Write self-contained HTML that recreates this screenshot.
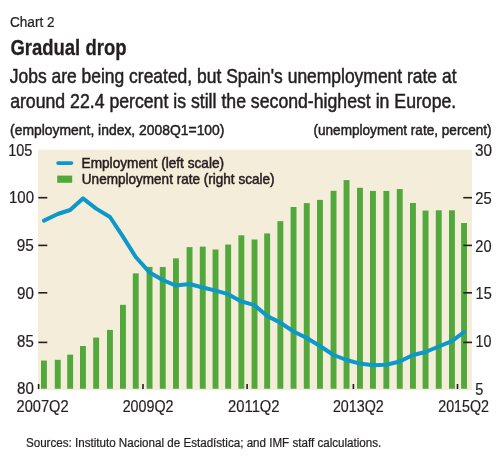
<!DOCTYPE html>
<html><head><meta charset="utf-8"><style>
html,body{margin:0;padding:0;background:#fff;width:500px;height:462px;overflow:hidden}
svg{display:block;will-change:transform}
text{font-family:"Liberation Sans",sans-serif;fill:#231F20;stroke:#231F20;stroke-width:0.5px}
</style></head><body>
<svg width="500" height="462" viewBox="0 0 500 462">
<rect x="38" y="149.7" width="434" height="240.6" fill="#F4EDDA"/>
<g fill="#52A83A"><rect x="41.00" y="360.56" width="5.9" height="28.19"/><rect x="54.80" y="359.79" width="5.9" height="28.96"/><rect x="67.20" y="354.64" width="5.9" height="34.11"/><rect x="80.00" y="346.00" width="5.9" height="42.75"/><rect x="93.20" y="337.57" width="5.9" height="51.18"/><rect x="107.00" y="329.90" width="5.9" height="58.85"/><rect x="120.00" y="304.84" width="5.9" height="83.91"/><rect x="132.80" y="273.40" width="5.9" height="115.35"/><rect x="146.60" y="266.87" width="5.9" height="121.88"/><rect x="159.80" y="266.97" width="5.9" height="121.78"/><rect x="173.00" y="258.38" width="5.9" height="130.37"/><rect x="186.60" y="247.13" width="5.9" height="141.62"/><rect x="199.80" y="246.65" width="5.9" height="142.10"/><rect x="212.60" y="249.51" width="5.9" height="139.24"/><rect x="225.20" y="244.55" width="5.9" height="144.20"/><rect x="238.40" y="235.30" width="5.9" height="153.45"/><rect x="251.60" y="239.49" width="5.9" height="149.26"/><rect x="264.20" y="233.39" width="5.9" height="155.36"/><rect x="277.40" y="221.18" width="5.9" height="167.57"/><rect x="290.60" y="207.00" width="5.9" height="181.75"/><rect x="303.80" y="203.10" width="5.9" height="185.65"/><rect x="317.00" y="199.90" width="5.9" height="188.85"/><rect x="330.60" y="190.80" width="5.9" height="197.95"/><rect x="343.60" y="180.10" width="5.9" height="208.65"/><rect x="357.00" y="187.79" width="5.9" height="200.96"/><rect x="370.00" y="190.94" width="5.9" height="197.81"/><rect x="383.40" y="190.94" width="5.9" height="197.81"/><rect x="396.80" y="189.03" width="5.9" height="199.72"/><rect x="410.00" y="202.96" width="5.9" height="185.79"/><rect x="422.60" y="210.59" width="5.9" height="178.16"/><rect x="435.80" y="210.30" width="5.9" height="178.45"/><rect x="449.00" y="210.30" width="5.9" height="178.45"/><rect x="461.10" y="222.99" width="5.9" height="165.76"/></g>
<g stroke="#231F20" stroke-width="1.6"><line x1="38.3" y1="197.7" x2="47.3" y2="197.7"/><line x1="463.3" y1="197.7" x2="472" y2="197.7"/><line x1="38.3" y1="245.4" x2="47.3" y2="245.4"/><line x1="463.3" y1="245.4" x2="472" y2="245.4"/><line x1="38.3" y1="292.8" x2="47.3" y2="292.8"/><line x1="463.3" y1="292.8" x2="472" y2="292.8"/><line x1="38.3" y1="342.4" x2="47.3" y2="342.4"/><line x1="463.3" y1="342.4" x2="472" y2="342.4"/><line x1="38.6" y1="384" x2="38.6" y2="389"/><line x1="143" y1="384" x2="143" y2="389"/><line x1="247.1" y1="384" x2="247.1" y2="389"/><line x1="353.4" y1="384" x2="353.4" y2="389"/><line x1="457.5" y1="384" x2="457.5" y2="389"/></g>
<polyline points="43.95,220.6 57.75,214 70.15,210 82.95,198.4 96.15,208.6 109.95,217 122.95,236.6 135.75,257 149.55,272.4 162.75,280 175.95,285.6 189.55,284 202.75,287.5 215.55,290.6 228.15,294.2 241.35,301.4 254.55,305.2 267.15,316 280.35,322.6 293.55,331.5 306.75,338 319.95,346 333.55,355 346.55,360 359.95,363.6 372.95,365.2 386.35,364.8 399.75,361.5 412.95,355 425.55,352 438.75,346.5 451.95,341.2 464.05,332" fill="none" stroke="#0C98C9" stroke-width="4" stroke-linejoin="round" stroke-linecap="round"/>
<line x1="58" y1="163.1" x2="71.5" y2="163.1" stroke="#0C98C9" stroke-width="3.6" stroke-linecap="round"/>
<rect x="57.2" y="175.6" width="15" height="7.2" fill="#52A83A"/>
<text transform="translate(9.94,26.6) scale(0.8857,1)" font-size="15.4" font-weight="400" style="stroke-width:0.25px">Chart 2</text>
<text transform="translate(10.38,54.8) scale(0.8186,1)" font-size="22.6" font-weight="700" style="stroke-width:0.3px">Gradual drop</text>
<text transform="translate(9.78,82.8) scale(0.8820,1)" font-size="19.8" font-weight="400">Jobs are being created, but Spain's unemployment rate at</text>
<text transform="translate(10.13,108.3) scale(0.8930,1)" font-size="19.8" font-weight="400">around 22.4 percent is still the second-highest in Europe.</text>
<text transform="translate(10.07,134.9) scale(0.9272,1)" font-size="15.0" font-weight="400">(employment, index, 2008Q1=100)</text>
<text transform="translate(313.49,134.9) scale(0.9063,1)" font-size="15.0" font-weight="400">(unemployment rate, percent)</text>
<text transform="translate(8.27,156) scale(0.9051,1)" font-size="16" font-weight="400" style="stroke-width:0.2px">105</text>
<text transform="translate(9.03,203) scale(0.9374,1)" font-size="16" font-weight="400" style="stroke-width:0.2px">100</text>
<text transform="translate(16.68,251.3) scale(0.9600,1)" font-size="16" font-weight="400" style="stroke-width:0.2px">95</text>
<text transform="translate(17.09,299.3) scale(0.9455,1)" font-size="16" font-weight="400" style="stroke-width:0.2px">90</text>
<text transform="translate(17.10,347) scale(0.9354,1)" font-size="16" font-weight="400" style="stroke-width:0.2px">85</text>
<text transform="translate(17.09,394) scale(0.9455,1)" font-size="16" font-weight="400" style="stroke-width:0.2px">80</text>
<text transform="translate(475.08,155.6) scale(0.9576,1)" font-size="16" font-weight="400" style="stroke-width:0.2px">30</text>
<text transform="translate(475.31,204) scale(0.9231,1)" font-size="16" font-weight="400" style="stroke-width:0.2px">25</text>
<text transform="translate(475.32,251.6) scale(0.9091,1)" font-size="16" font-weight="400" style="stroke-width:0.2px">20</text>
<text transform="translate(475.57,299.3) scale(0.9079,1)" font-size="16" font-weight="400" style="stroke-width:0.2px">15</text>
<text transform="translate(475.58,347) scale(0.8938,1)" font-size="16" font-weight="400" style="stroke-width:0.2px">10</text>
<text transform="translate(475.32,394.5) scale(0.9067,1)" font-size="16" font-weight="400" style="stroke-width:0.2px">5</text>
<text transform="translate(16.61,411.6) scale(0.9135,1)" font-size="16" font-weight="400" style="stroke-width:0.2px">2007Q2</text>
<text transform="translate(122.63,411.6) scale(0.8937,1)" font-size="16" font-weight="400" style="stroke-width:0.2px">2009Q2</text>
<text transform="translate(228.11,411.6) scale(0.9235,1)" font-size="16" font-weight="400" style="stroke-width:0.2px">2011Q2</text>
<text transform="translate(332.93,411.6) scale(0.8937,1)" font-size="16" font-weight="400" style="stroke-width:0.2px">2013Q2</text>
<text transform="translate(438.23,411.6) scale(0.8937,1)" font-size="16" font-weight="400" style="stroke-width:0.2px">2015Q2</text>
<text transform="translate(81.58,167.6) scale(0.9747,1)" font-size="14" font-weight="400">Employment (left scale)</text>
<text transform="translate(81.83,184.4) scale(0.9683,1)" font-size="14" font-weight="400">Unemployment rate (right scale)</text>
<text transform="translate(25.95,447.3) scale(0.8613,1)" font-size="13.5" font-weight="400" style="stroke-width:0.25px">Sources: Instituto Nacional de Estadística; and IMF staff calculations.</text>
</svg>
</body></html>
